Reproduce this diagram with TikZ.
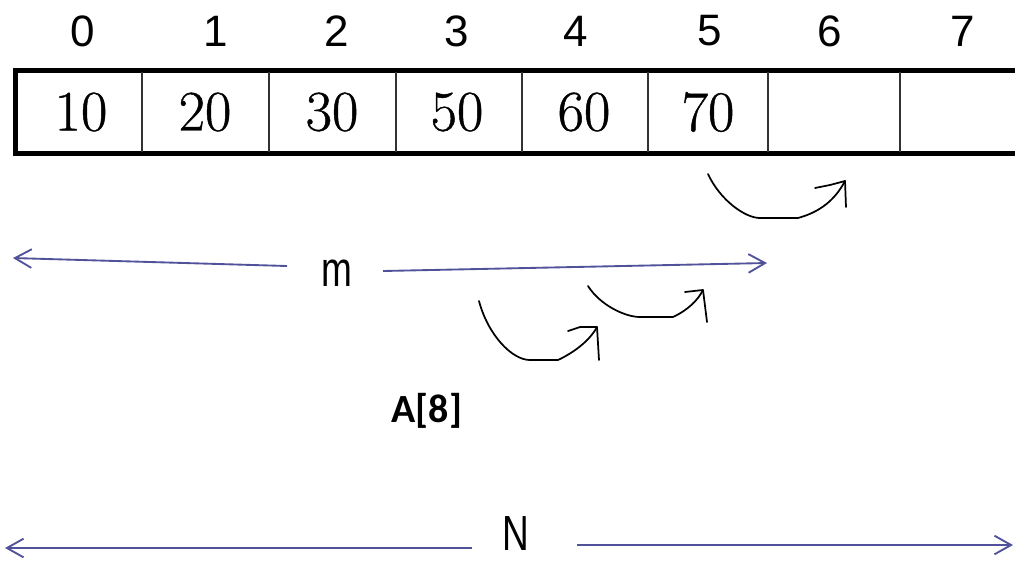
\documentclass[tikz,border=0pt]{standalone}
\usepackage{fontspec}
\setmainfont{Latin Modern Roman}
\newfontfamily\cmval[FakeBold=0.8]{Latin Modern Roman}
\newfontfamily\arialf{Liberation Sans}
\newfontfamily\calib{Carlito}
\usetikzlibrary{arrows.meta}
\definecolor{arrowblue}{RGB}{82,82,155}
\definecolor{divgray}{RGB}{50,50,50}
\tikzset{
  idx/.style={font=\arialf\fontsize{33}{36}\selectfont, inner sep=0pt, anchor=center},
  val/.style={font=\cmval\fontsize{43}{46}\selectfont, inner sep=0pt, anchor=center},
  dimlabel/.style={font=\arialf\fontsize{37}{40}\selectfont, inner sep=0pt, xscale=0.75},
  dimline/.style={draw=arrowblue, line width=1.4pt, -{Straight Barb[length=12.5pt,width=14pt,line width=1.4pt]}},
  hand/.style={draw=black, line width=1.3pt, line join=round, line cap=round},
  border/.style={line width=4pt, draw=black},
  divider/.style={line width=1.5pt, draw=divgray}
}
\begin{document}
\begin{tikzpicture}[x=0.75pt, y=-0.75pt]
\useasboundingbox (0,0) rectangle (1015,562);
% array outline
\draw[border] (1020,70.5) -- (15.5,70.5) -- (15.5,153.5) -- (1020,153.5);
\foreach \xx in {142,269,396,522,648,768,900} {
  \draw[divider] (\xx,72) -- (\xx,152);
}
% values
\node[val] (c0) at (81,112) {10};
\node[val] (c1) at (205,112) {20};
\node[val] (c2) at (332,112) {30};
\node[val] (c3) at (457,112) {50};
\node[val] (c4) at (584,112) {60};
\node[val] (c5) at (708,112) {70};
% indices
\node[idx] (i0) at (83,31) {0};
\node[idx] (i1) at (216,31) {1};
\node[idx] (i2) at (337,31) {2};
\node[idx] (i3) at (457,31) {3};
\node[idx] (i4) at (576,31) {4};
\node[idx] (i5) at (710,31) {5};
\node[idx] (i6) at (830,31) {6};
\node[idx] (i7) at (963,31) {7};
% m dimension
\node[dimlabel] (m) at (337,273) {m};
\coordinate (mL1) at (287,266);
\coordinate (mL2) at (13,258);
\coordinate (mR1) at (383,271);
\coordinate (mR2) at (767,263);
\draw[dimline] (mL1) -- (mL2);
\draw[dimline] (mR1) -- (mR2);
% N dimension
\node[dimlabel] (N) at (516,534) {N};
\coordinate (nL1) at (472,548);
\coordinate (nL2) at (5,548);
\coordinate (nR1) at (577,545);
\coordinate (nR2) at (1013,545);
\draw[dimline] (nL1) -- (nL2);
\draw[dimline] (nR1) -- (nR2);
% label
\node[font=\calib\bfseries\fontsize{30}{33}\selectfont, inner sep=0pt] (A) at (427,411) {A[8]};
% hand-drawn shift arrows
\coordinate (s1) at (708,174);
\coordinate (t1) at (845,181);
\draw[hand] (s1) .. controls (720,200) and (745,218) .. (760,218) -- (798,218) .. controls (820,212) and (835,200) .. (t1);
\draw[hand] (815,188) -- (830,185) -- (t1) -- (846,207);
\coordinate (s2) at (479,301);
\coordinate (t2) at (597,327);
\draw[hand] (s2) .. controls (488,335) and (512,360) .. (530,360) -- (558,360) .. controls (575,352) and (590,340) .. (t2);
\draw[hand] (568,331) -- (580,327) -- (t2) -- (599,360);
\coordinate (s3) at (588,286);
\coordinate (t3) at (703,290);
\draw[hand] (s3) .. controls (600,305) and (625,317) .. (640,317) -- (673,317) .. controls (688,310) and (698,300) .. (t3);
\draw[hand] (685,292) -- (t3) -- (707,322);
\end{tikzpicture}
\end{document}
